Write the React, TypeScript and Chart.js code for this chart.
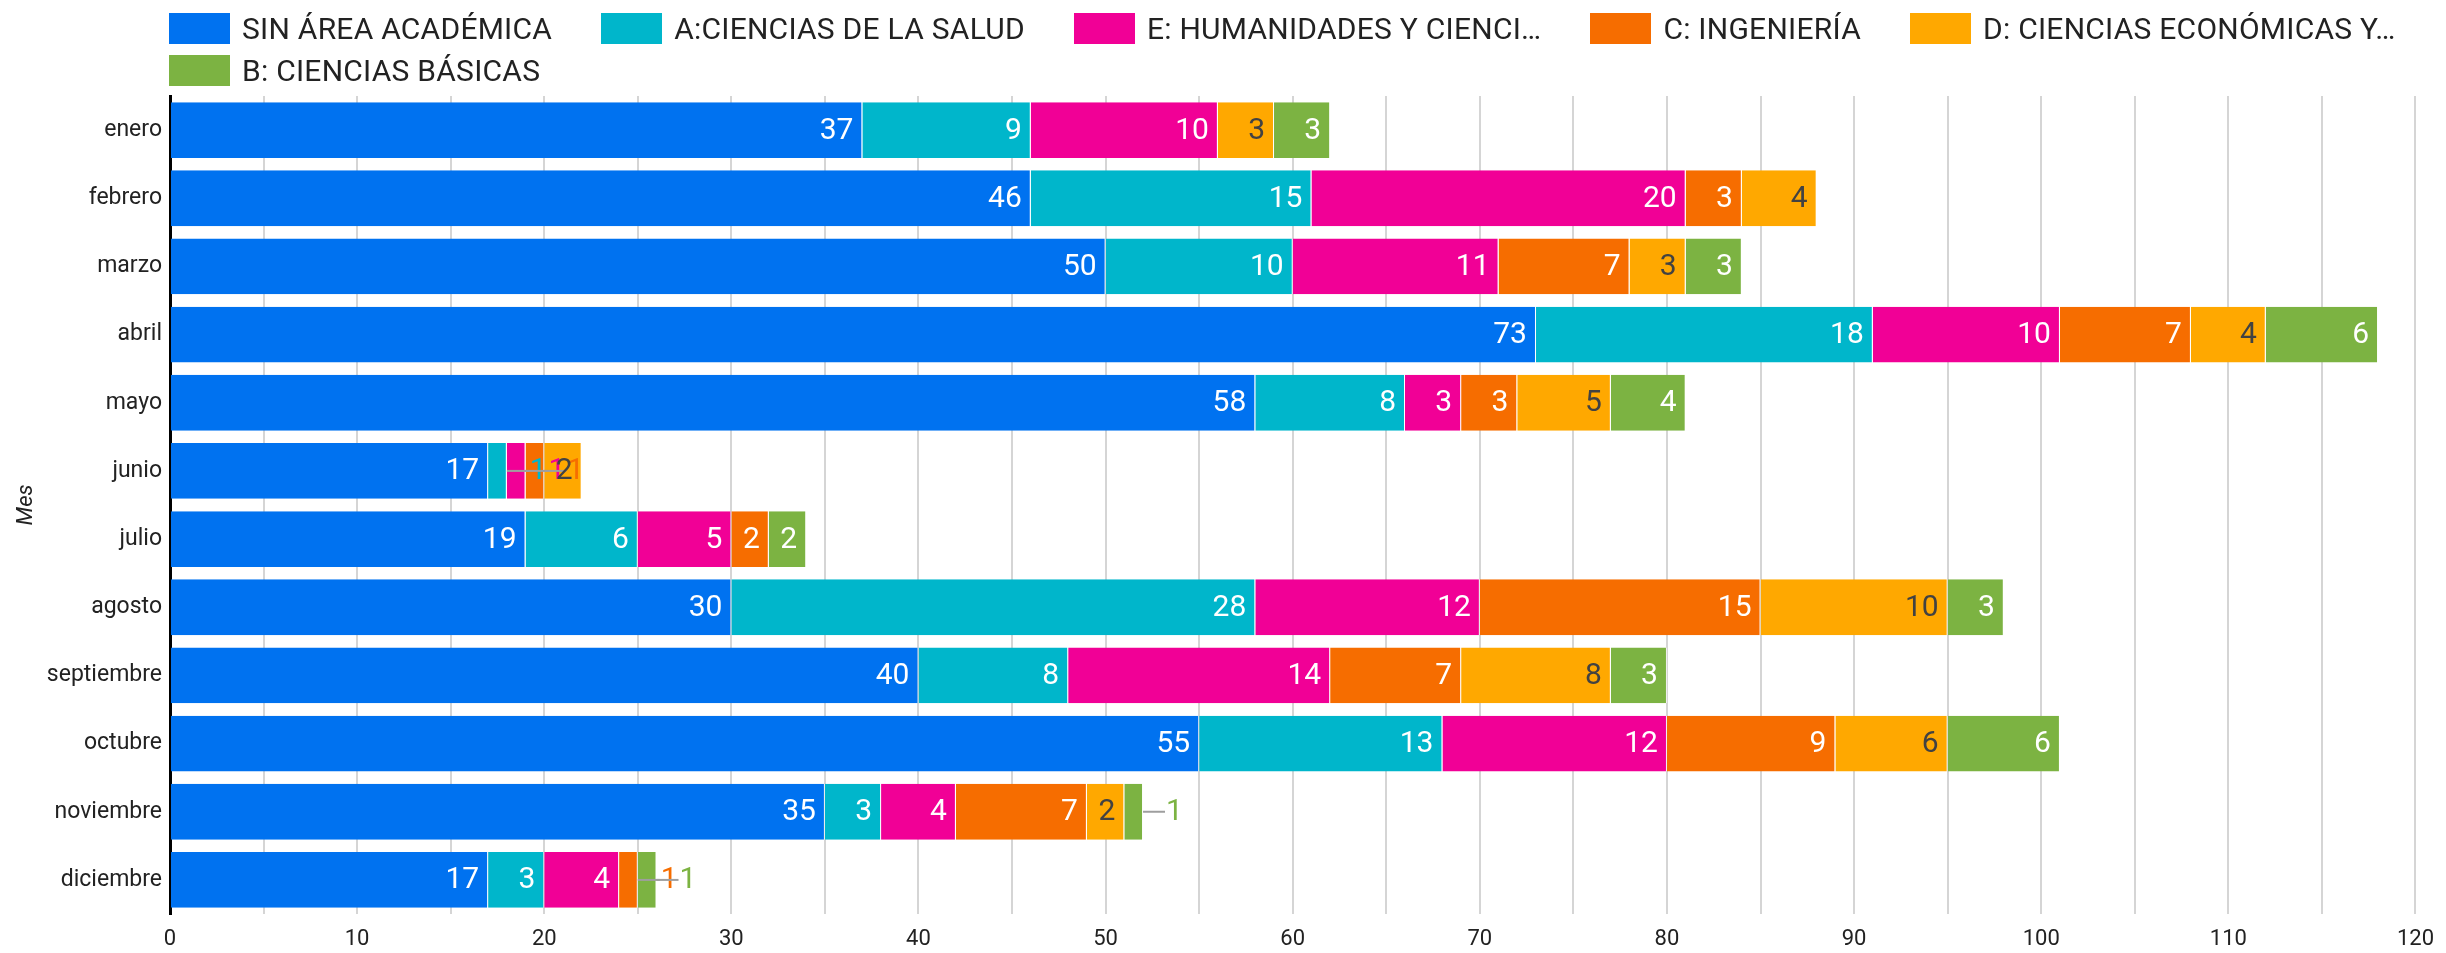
import React, { useEffect, useRef } from 'react';
import { Chart, registerables } from 'chart.js';

Chart.register(...registerables);

// ---------- data ----------
const months = ['enero', 'febrero', 'marzo', 'abril', 'mayo', 'junio', 'julio', 'agosto', 'septiembre', 'octubre', 'noviembre', 'diciembre'];
const seriesNames = ['SIN ÁREA ACADÉMICA', 'A:CIENCIAS DE LA SALUD', 'E: HUMANIDADES Y CIENCI…', 'C: INGENIERÍA', 'D: CIENCIAS ECONÓMICAS Y…', 'B: CIENCIAS BÁSICAS'];
const sinArea = [37, 46, 50, 73, 58, 17, 19, 30, 40, 55, 35, 17];
const cienciasSalud = [9, 15, 10, 18, 8, 1, 6, 28, 8, 13, 3, 3];
const humanidades = [10, 20, 11, 10, 3, 1, 5, 12, 14, 12, 4, 4];
const ingenieria = [0, 3, 7, 7, 3, 1, 2, 15, 7, 9, 7, 1];
const economicas = [3, 4, 3, 4, 5, 2, 0, 10, 8, 6, 2, 0];
const basicas = [3, 0, 3, 6, 4, 0, 2, 3, 3, 6, 1, 1];
const seriesColors = ['#0072f0', '#00b6cb', '#f10096', '#f66d00', '#ffa800', '#7cb342'];
const labelColors = ['#ffffff', '#ffffff', '#ffffff', '#ffffff', '#424242', '#ffffff'];
const xTickLabels = ['0', '10', '20', '30', '40', '50', '60', '70', '80', '90', '100', '110', '120'];
const xAxisTitle = '';
const yAxisTitle = 'Mes';

const allSeries = [sinArea, cienciasSalud, humanidades, ingenieria, economicas, basicas];

const FONT = "Roboto, 'Noto Sans', sans-serif";

const valueLabelPlugin = {
  id: 'valueLabels',
  afterDatasetsDraw(chart: any) {
    const ctx = chart.ctx;
    ctx.save();
    ctx.font = `30px ${FONT}`;
    ctx.textBaseline = 'middle';
    chart.data.datasets.forEach((ds: any, di: number) => {
      const meta = chart.getDatasetMeta(di);
      if (meta.hidden) return;
      meta.data.forEach((bar: any, i: number) => {
        const v = ds.data[i];
        if (!v) return;
        const { x, base, y } = bar.getProps(['x', 'base', 'y'], true);
        const segW = Math.abs(x - base);
        const txt = String(v);
        const tw = ctx.measureText(txt).width;
        if (segW >= tw + 12) {
          ctx.fillStyle = labelColors[di];
          ctx.textAlign = 'right';
          ctx.fillText(txt, x - 9, y + 1);
        } else {
          ctx.strokeStyle = '#9e9e9e';
          ctx.lineWidth = 2;
          ctx.beginPath();
          ctx.moveTo(x, y);
          ctx.lineTo(x + 22, y);
          ctx.stroke();
          ctx.fillStyle = seriesColors[di];
          ctx.textAlign = 'left';
          ctx.fillText(txt, x + 23, y + 1);
        }
      });
    });
    ctx.restore();
  },
};

function Legend() {
  const item = (i: number) => (
    <div key={i} style={{ display: 'flex', alignItems: 'center', marginRight: 49 }}>
      <div style={{ width: 61, height: 31, background: seriesColors[i], marginRight: 12, flex: 'none' }} />
      <span style={{ fontFamily: FONT, fontSize: 30, letterSpacing: '0.25px', color: '#222', whiteSpace: 'nowrap', lineHeight: '31px' }}>{seriesNames[i]}</span>
    </div>
  );
  return (
    <div style={{ position: 'absolute', left: 169, top: 13 }}>
      <div style={{ display: 'flex', height: 31 }}>{[0, 1, 2, 3, 4].map(item)}</div>
      <div style={{ display: 'flex', height: 31, marginTop: 11 }}>{[5].map(item)}</div>
    </div>
  );
}

export default function App() {
  const canvasRef = useRef<HTMLCanvasElement | null>(null);

  useEffect(() => {
    document.body.style.margin = '0';
    document.body.style.overflow = 'hidden';
    const canvas = canvasRef.current;
    if (!canvas) return;
    const chart = new Chart(canvas, {
      type: 'bar',
      data: {
        labels: months,
        datasets: allSeries.map((d, i) => ({
          label: seriesNames[i],
          data: d,
          backgroundColor: seriesColors[i],
          borderColor: 'rgba(255,255,255,0.65)',
          borderWidth: { top: 0, right: 1, bottom: 0, left: 0 },
          borderSkipped: false,
          categoryPercentage: 1,
          barPercentage: 0.82,
        })),
      },
      options: {
        indexAxis: 'y',
        animation: false,
        responsive: false,
        devicePixelRatio: 1,
        layout: { padding: { left: 0, top: 96, right: 26, bottom: 0 } },
        plugins: {
          legend: { display: false },
          tooltip: { enabled: false },
          title: { display: false },
        },
        scales: {
          x: {
            stacked: true,
            min: 0,
            max: 120,
            afterFit(scale: any) {
              scale.height = 39;
            },
            ticks: {
              stepSize: 5,
              autoSkip: false,
              maxRotation: 0,
              padding: 12,
              color: '#222',
              font: { family: FONT, size: 22 },
              callback: (v: any) => {
                const s = String(v);
                return xTickLabels.includes(s) ? s : '';
              },
            },
            grid: {
              drawTicks: false,
              color: (c: any) => (c.tick && c.tick.value === 0 ? 'rgba(0,0,0,0)' : '#d5d5d5'),
              lineWidth: 2,
            },
            border: { display: false },
            title: { display: !!xAxisTitle, text: xAxisTitle },
          },
          y: {
            stacked: true,
            afterFit(scale: any) {
              scale.width = 170;
            },
            ticks: {
              padding: 8,
              color: '#222',
              font: { family: FONT, size: 23 },
            },
            grid: { display: false, drawTicks: false },
            border: { display: true, color: '#000', width: 3 },
            title: {
              display: true,
              text: yAxisTitle,
              color: '#222',
              font: { family: FONT, size: 22, style: 'italic' },
              padding: { top: 13, bottom: 0 },
            },
          },
        },
      },
      plugins: [valueLabelPlugin],
    });
    return () => chart.destroy();
  }, []);

  return (
    <div style={{ position: 'absolute', left: 0, top: 0, width: 2446, height: 953, background: '#fff', overflow: 'hidden' }}>
      <canvas ref={canvasRef} width={2446} height={953} style={{ position: 'absolute', left: 0, top: 0, width: 2446, height: 953 }} />
      <Legend />
    </div>
  );
}
